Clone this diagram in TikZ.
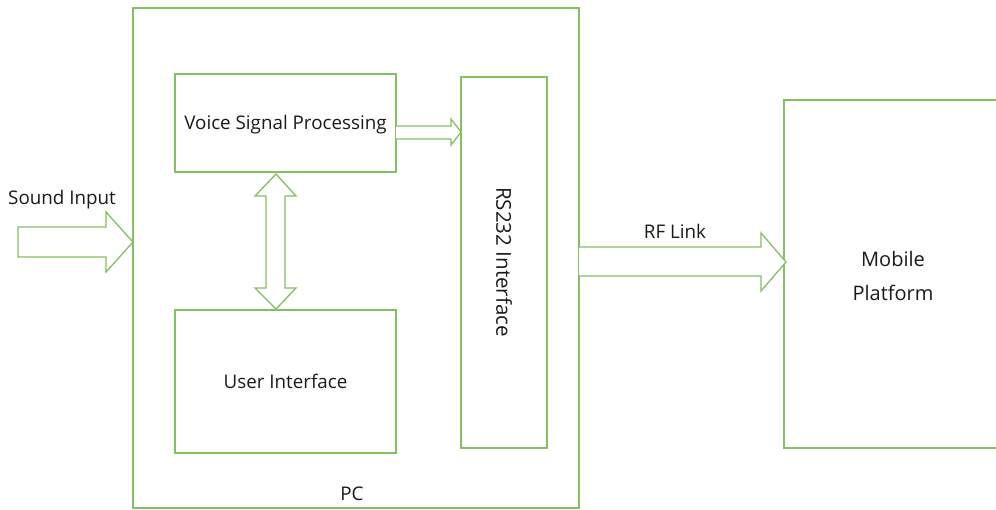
\documentclass[tikz,border=0pt]{standalone}
\usepackage{fontspec}
\setmainfont{Open Sans}
\definecolor{gline}{HTML}{82C060}
\definecolor{txt}{HTML}{1A1A1A}
\begin{document}
\begin{tikzpicture}[x=1pt,y=-1pt,
  box/.style={draw=gline,line width=1.3pt,fill=none},
  blk/.style={draw=gline,line width=1.3pt,fill=white,line join=miter},
  lbl/.style={text=txt,font=\fontsize{18.8}{22}\selectfont,inner sep=0pt}]
\useasboundingbox (0,0) rectangle (996,509);
% boxes
\draw[box] (133,8) rectangle (579,508);
\node[lbl] (pc) at (352,494) {PC};
\draw[box] (175,74) rectangle (396,172);
\node[lbl] (vsp) at (285.5,125) {Voice Signal Processing};
\draw[box] (175,310) rectangle (396,453);
\node[lbl] (ui) at (285.5,381) {User Interface};
\draw[box] (461,77) rectangle (547,448);
\node[lbl,rotate=-90,font=\fontsize{20.5}{24}\selectfont] (rs) at (504,262) {RS232 Interface};
\draw[box] (996,100) -- (784,100) -- (784,448) -- (996,448);
\node[lbl,align=center,font=\fontsize{20}{34}\selectfont] (mp) at (893,276) {Mobile\\Platform};
% Sound input arrow
\node[lbl,anchor=west] (si) at (8,200) {Sound Input};
\draw[blk] (18,227) -- (106,227) -- (106,212) -- (133,242) -- (106,272) -- (106,257) -- (18,257) -- cycle;
% VSP -> RS232
\draw[blk] (396,126) -- (451,126) -- (451,119) -- (461,132) -- (451,145) -- (451,139) -- (396,139);
% double arrow
\draw[blk] (276,174) -- (296,196) -- (285,196) -- (285,288) -- (296,288) -- (276,309) -- (255,288) -- (266,288) -- (266,196) -- (255,196) -- cycle;
% RF link
\node[lbl] (rf) at (675,231) {RF Link};
\draw[blk] (579,247) -- (761,247) -- (761,233) -- (786,262) -- (761,291) -- (761,276) -- (579,276);
\end{tikzpicture}
\end{document}
